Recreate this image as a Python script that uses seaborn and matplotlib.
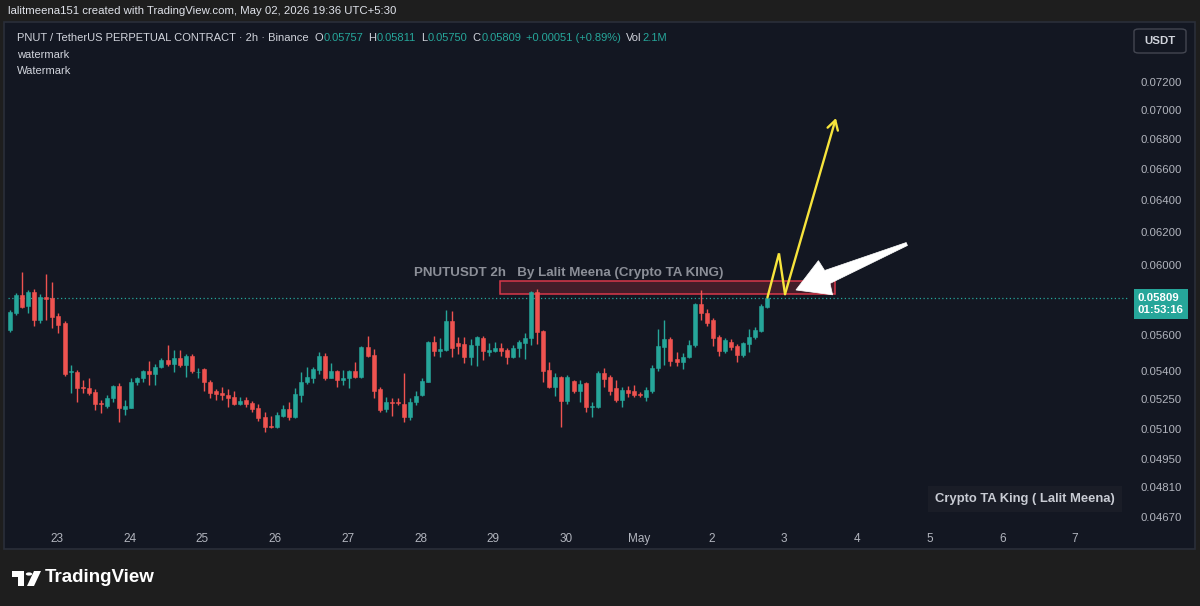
import numpy as np
import pandas as pd
import seaborn as sns
import matplotlib
matplotlib.use("Agg")
import matplotlib.pyplot as plt
from matplotlib.patches import Rectangle, Circle, Polygon, FancyBboxPatch
from matplotlib.transforms import blended_transform_factory, IdentityTransform
from matplotlib.ticker import FixedLocator, NullLocator, FuncFormatter
from matplotlib import font_manager as fm

# ---------------- data (2h candles, PNUT/USDT) ----------------
opens = [0.05625, 0.05721, 0.05825, 0.05763, 0.05844, 0.05682, 0.05813, 0.05808, 0.05706, 0.05665,
         0.05395, 0.05397, 0.05317, 0.05312, 0.05287, 0.05229, 0.05216, 0.05256, 0.05322, 0.05200,
         0.05208, 0.05342, 0.05362, 0.05401, 0.05383, 0.05424, 0.05460, 0.05437, 0.05469, 0.05433,
         0.05483, 0.05393, 0.05410, 0.05343, 0.05294, 0.05285, 0.05273, 0.05264, 0.05225, 0.05247,
         0.05230, 0.05207, 0.05160, 0.05113, 0.05109, 0.05165, 0.05200, 0.05160, 0.05273, 0.05340,
         0.05362, 0.05406, 0.05481, 0.05365, 0.05401, 0.05352, 0.05362, 0.05401, 0.05371, 0.05533,
         0.05487, 0.05305, 0.05200, 0.05238, 0.05238, 0.05225, 0.05160, 0.05238, 0.05273, 0.05343,
         0.05557, 0.05509, 0.05515, 0.05676, 0.05551, 0.05546, 0.05477, 0.05542, 0.05583, 0.05505,
         0.05509, 0.05524, 0.05515, 0.05477, 0.05524, 0.05551, 0.05579, 0.05840, 0.05619, 0.05406,
         0.05317, 0.05371, 0.05242, 0.05347, 0.05294, 0.05335, 0.05212, 0.05211, 0.05391, 0.05371,
         0.05309, 0.05247, 0.05299, 0.05296, 0.05278, 0.05264, 0.05296, 0.05415, 0.05533, 0.05573,
         0.05464, 0.05451, 0.05474, 0.05542, 0.05773, 0.05723, 0.05682, 0.05588, 0.05511, 0.05560,
         0.05537, 0.05487, 0.05548, 0.05585, 0.05622, 0.05757]
highs = [0.05738, 0.05837, 0.05958, 0.05854, 0.05860, 0.05830, 0.05946, 0.05901, 0.05721, 0.05676,
         0.05433, 0.05406, 0.05352, 0.05365, 0.05305, 0.05247, 0.05273, 0.05326, 0.05335, 0.05247,
         0.05362, 0.05370, 0.05406, 0.05455, 0.05437, 0.05469, 0.05542, 0.05515, 0.05515, 0.05492,
         0.05492, 0.05416, 0.05416, 0.05352, 0.05305, 0.05315, 0.05305, 0.05294, 0.05264, 0.05264,
         0.05242, 0.05226, 0.05185, 0.05164, 0.05185, 0.05221, 0.05238, 0.05309, 0.05395, 0.05424,
         0.05424, 0.05502, 0.05496, 0.05442, 0.05406, 0.05406, 0.05406, 0.05448, 0.05539, 0.05594,
         0.05520, 0.05317, 0.05264, 0.05259, 0.05257, 0.05388, 0.05256, 0.05294, 0.05362, 0.05564,
         0.05594, 0.05583, 0.05738, 0.05733, 0.05588, 0.05588, 0.05575, 0.05594, 0.05594, 0.05551,
         0.05557, 0.05551, 0.05526, 0.05542, 0.05570, 0.05608, 0.05848, 0.05860, 0.05625, 0.05451,
         0.05388, 0.05375, 0.05380, 0.05352, 0.05352, 0.05343, 0.05238, 0.05402, 0.05415, 0.05380,
         0.05352, 0.05317, 0.05322, 0.05326, 0.05290, 0.05317, 0.05433, 0.05633, 0.05682, 0.05586,
         0.05505, 0.05496, 0.05570, 0.05780, 0.05854, 0.05742, 0.05691, 0.05598, 0.05579, 0.05573,
         0.05548, 0.05560, 0.05630, 0.05641, 0.05773, 0.05811]
lows = [0.05614, 0.05710, 0.05750, 0.05721, 0.05650, 0.05665, 0.05682, 0.05637, 0.05609, 0.05375,
        0.05284, 0.05238, 0.05284, 0.05273, 0.05195, 0.05180, 0.05207, 0.05238, 0.05135, 0.05169,
        0.05205, 0.05326, 0.05340, 0.05326, 0.05326, 0.05415, 0.05427, 0.05395, 0.05422, 0.05371,
        0.05388, 0.05363, 0.05294, 0.05259, 0.05248, 0.05248, 0.05212, 0.05221, 0.05221, 0.05212,
        0.05186, 0.05139, 0.05084, 0.05101, 0.05104, 0.05160, 0.05144, 0.05155, 0.05238, 0.05331,
        0.05335, 0.05383, 0.05352, 0.05362, 0.05317, 0.05326, 0.05309, 0.05363, 0.05362, 0.05476,
        0.05259, 0.05186, 0.05186, 0.05166, 0.05221, 0.05135, 0.05144, 0.05221, 0.05269, 0.05340,
        0.05483, 0.05477, 0.05509, 0.05477, 0.05491, 0.05442, 0.05433, 0.05429, 0.05460, 0.05483,
        0.05502, 0.05483, 0.05437, 0.05469, 0.05477, 0.05465, 0.05542, 0.05548, 0.05343, 0.05312,
        0.05269, 0.05109, 0.05228, 0.05282, 0.05235, 0.05186, 0.05160, 0.05205, 0.05317, 0.05273,
        0.05236, 0.05212, 0.05264, 0.05264, 0.05261, 0.05243, 0.05282, 0.05402, 0.05433, 0.05427,
        0.05427, 0.05414, 0.05469, 0.05533, 0.05682, 0.05648, 0.05537, 0.05481, 0.05496, 0.05515,
        0.05451, 0.05477, 0.05505, 0.05573, 0.05616, 0.05750]
closes = [0.05727, 0.05825, 0.05757, 0.05844, 0.05682, 0.05815, 0.05802, 0.05700, 0.05651, 0.05383,
          0.05400, 0.05312, 0.05308, 0.05282, 0.05225, 0.05224, 0.05259, 0.05322, 0.05204, 0.05217,
          0.05342, 0.05363, 0.05401, 0.05383, 0.05424, 0.05460, 0.05437, 0.05469, 0.05433, 0.05483,
          0.05401, 0.05397, 0.05340, 0.05285, 0.05280, 0.05273, 0.05256, 0.05225, 0.05242, 0.05225,
          0.05200, 0.05155, 0.05109, 0.05108, 0.05169, 0.05200, 0.05160, 0.05277, 0.05343, 0.05367,
          0.05411, 0.05483, 0.05365, 0.05401, 0.05352, 0.05365, 0.05401, 0.05371, 0.05533, 0.05483,
          0.05294, 0.05195, 0.05238, 0.05233, 0.05234, 0.05160, 0.05238, 0.05269, 0.05347, 0.05557,
          0.05509, 0.05520, 0.05676, 0.05526, 0.05538, 0.05477, 0.05542, 0.05588, 0.05509, 0.05515,
          0.05524, 0.05509, 0.05477, 0.05526, 0.05557, 0.05583, 0.05844, 0.05616, 0.05401, 0.05317,
          0.05371, 0.05242, 0.05371, 0.05294, 0.05329, 0.05212, 0.05217, 0.05391, 0.05356, 0.05296,
          0.05247, 0.05299, 0.05285, 0.05273, 0.05271, 0.05302, 0.05415, 0.05537, 0.05573, 0.05456,
          0.05451, 0.05477, 0.05542, 0.05773, 0.05719, 0.05666, 0.05579, 0.05511, 0.05570, 0.05533,
          0.05487, 0.05551, 0.05588, 0.05625, 0.05761, 0.05809]

day_labels = ["23", "24", "25", "26", "27", "28", "29", "30", "May", "2", "3", "4", "5", "6", "7"]
price_ticks = [0.0720, 0.0700, 0.0680, 0.0660, 0.0640, 0.0620, 0.0600,
               0.0560, 0.0540, 0.0525, 0.0510, 0.0495, 0.0481, 0.0467]
last_price = 0.05809
zone_low, zone_high = 0.05830, 0.05906
projection_prices = [0.05811, 0.06071, 0.05830, 0.06946]
header_ohlc = [("O", "0.05757"), ("H", "0.05811"), ("L", "0.05750"), ("C", "0.05809")]

# ---------------- style ----------------
TEAL = "#26a69a"
RED = "#ef5350"
BG = "#131722"
OUTER = "#1e1e1e"
TXT = "#d1d4dc"
AX_TXT = "#b2b5be"
YELLOW = "#f7e43c"

sns.set_theme(style="dark")
names = {f.name for f in fm.fontManager.ttflist}
BASE = "Liberation Sans" if "Liberation Sans" in names else "DejaVu Sans"
plt.rcParams["font.family"] = [BASE, "DejaVu Sans"]

W, H = 1200, 606
fig = plt.figure(figsize=(W / 100, H / 100), dpi=100, facecolor=OUTER)


def fx(x):
    return x / W


def fy(y):
    return 1 - y / H


# chart panel
fig.add_artist(Rectangle((fx(4), fy(549)), fx(1195) - fx(4), fy(22) - fy(549),
                         transform=fig.transFigure, facecolor=BG, edgecolor="#2a2e39",
                         lw=1.2, zorder=-5))

ax = fig.add_axes([fx(8), fy(525), fx(1128) - fx(8), fy(24) - fy(525)])
ax.set_facecolor(BG)
for s in ax.spines.values():
    s.set_visible(False)
ax.grid(False)

df = pd.DataFrame({"open": opens, "high": highs, "low": lows, "close": closes})
df["i"] = np.arange(len(df))
df["up"] = df["close"] >= df["open"]
df["color"] = np.where(df["up"], TEAL, RED)
df["body_lo"] = df[["open", "close"]].min(axis=1)
df["body_hi"] = df[["open", "close"]].max(axis=1)

ax.set_yscale("log")
ax.set_xlim(-0.33, 184.5)
ax.set_ylim(0.046335, 0.076275)

# zone rectangle (behind candles)
ax.add_patch(Rectangle((80.9, zone_low), 136.1 - 80.9, zone_high - zone_low,
                       facecolor=(0.95, 0.21, 0.27, 0.22), edgecolor="#d8384a", lw=1.1, zorder=1))

# wicks and bodies
ax.vlines(df["i"], df["low"], df["high"], colors=df["color"], lw=1.0, zorder=2)
ax.bar(df["i"], df["body_hi"] - df["body_lo"], bottom=df["body_lo"], width=0.66,
       color=df["color"], edgecolor=df["color"], linewidth=0.4, zorder=3)

# last price dotted line
ax.axhline(last_price, color=TEAL, ls=(0, (1, 2)), lw=0.9, zorder=1.5)

# ticks
day_pos = [7.75 + 12 * k for k in range(len(day_labels))]
ax.set_xticks(day_pos)
ax.set_xticklabels(day_labels)
ax.tick_params(axis="x", length=0, pad=6, labelsize=8.5, labelcolor=AX_TXT)
ax.yaxis.tick_right()
ax.yaxis.set_major_locator(FixedLocator(price_ticks))
ax.yaxis.set_minor_locator(NullLocator())
ax.yaxis.set_major_formatter(FuncFormatter(lambda v, p: f"{v:.5f}"))
ax.yaxis.set_minor_formatter(FuncFormatter(lambda v, p: ""))
ax.tick_params(axis="y", which="both", length=0, pad=9, labelsize=8.2, labelcolor=AX_TXT)

# current price label
btr = blended_transform_factory(ax.transAxes, ax.transData)
ax.annotate("0.05809\n01:53:16", xy=(1.0, last_price), xycoords=btr,
            xytext=(7, -4.5), textcoords="offset points", ha="left", va="center",
            color="white", fontsize=8.2, fontweight="bold", linespacing=1.15,
            bbox=dict(boxstyle="square,pad=0.35", fc=TEAL, ec="none"), annotation_clip=False)

# annotation text above zone
ax.text(92.2, 0.05954, "PNUTUSDT 2h   By Lalit Meena (Crypto TA KING)", ha="center",
        va="center", color="#8c8f98", fontsize=9.6, fontweight="bold", zorder=4)

# yellow projection path
ax.plot([125.0, 126.9, 127.9], projection_prices[:3], color=YELLOW, lw=1.7, zorder=5,
        solid_joinstyle="miter")
ax.annotate("", xy=(136.3, projection_prices[3]), xytext=(127.9, projection_prices[2]),
            arrowprops=dict(arrowstyle="->,head_length=0.55,head_width=0.32", color=YELLOW,
                            lw=1.7, shrinkA=0, shrinkB=0), zorder=5)

# white tapered arrow (tail thin, widening to a broad head), built in pixel space
tip = ax.transData.transform((129.7, 0.05854))
tail = ax.transData.transform((148.0, 0.06128))
d = tail - tip
u = d / np.hypot(*d)
nrm = np.array([-u[1], u[0]])
head_len, head_half, shaft_half, tail_half = 32.0, 18.5, 7.0, 1.6
base = tip + u * head_len
arrow_pts = [tip, base + nrm * head_half, base + u * 2 + nrm * shaft_half,
             tail + nrm * tail_half, tail - nrm * tail_half,
             base + u * 2 - nrm * shaft_half, base - nrm * head_half]
fig.add_artist(Polygon(arrow_pts, closed=True, transform=IdentityTransform(),
                       fc="white", ec="white", lw=0.5, zorder=6))

# signature box
fig.text(fx(1025), fy(499), "Crypto TA King ( Lalit Meena)", ha="center", va="center",
         color="#c9ccd4", fontsize=9.4, fontweight="bold",
         bbox=dict(boxstyle="square,pad=0.55", fc="#1a1d27", ec="none"))

# USDT box
fig.add_artist(FancyBboxPatch((fx(1134), fy(53)), fx(1186) - fx(1134), fy(29) - fy(53),
                              boxstyle="round,pad=0,rounding_size=0.004",
                              transform=fig.transFigure, fc=BG, ec="#434651", lw=1.0))
fig.text(fx(1160), fy(41), "USDT", ha="center", va="center", color=TXT, fontsize=8.2,
         fontweight="bold")

# ---------------- header texts ----------------
renderer = fig.canvas.get_renderer()
HFAM = [BASE, "DejaVu Sans"]

fig.text(fx(8), fy(11), "lalitmeena151 created with TradingView.com, May 02, 2026 19:36 UTC+5:30",
         family=HFAM, fontsize=8.2, color="#e0e3eb", ha="left", va="center")

parts = [("PNUT / TetherUS PERPETUAL CONTRACT · 2h · Binance", TXT, 6)]
for k, v in header_ohlc:
    parts.append((k, TXT, 0.5))
    parts.append((v, TEAL, 5))
parts += [("+0.00051 (+0.89%)", TEAL, 5), ("Vol", TXT, 0.5), ("2.1M", TEAL, 0)]
x = 17
for s, c, gap in parts:
    t = fig.text(fx(x), fy(38), s, family=HFAM, fontsize=8.0, color=c, ha="left", va="center")
    x += t.get_window_extent(renderer).width + gap

fig.text(fx(17), fy(55), "watermark", family=HFAM, fontsize=8.0, color=TXT, ha="left", va="center")
fig.text(fx(17), fy(71), "Watermark", family=HFAM, fontsize=8.0, color=TXT, ha="left", va="center")

# ---------------- TradingView logo ----------------
LOGO = "#ffffff"
fig.add_artist(Rectangle((fx(12), fy(577)), fx(24) - fx(12), fy(571) - fy(577),
                         transform=fig.transFigure, fc=LOGO, ec="none"))
fig.add_artist(Rectangle((fx(18), fy(586)), fx(24) - fx(18), fy(571) - fy(586),
                         transform=fig.transFigure, fc=LOGO, ec="none"))
fig.add_artist(Circle((fx(29), fy(574)), 3.2 / W, transform=fig.transFigure, fc=LOGO, ec="none"))
fig.add_artist(Polygon([(fx(34), fy(571)), (fx(41), fy(571)), (fx(34), fy(586)), (fx(27), fy(586))],
                       closed=True, transform=fig.transFigure, fc=LOGO, ec="none"))
fig.text(fx(45), fy(578), "TradingView", family=HFAM, fontsize=13.5,
         fontweight="bold", color=LOGO, ha="left", va="center")

fig.savefig("out.png", dpi=100, facecolor=OUTER)
